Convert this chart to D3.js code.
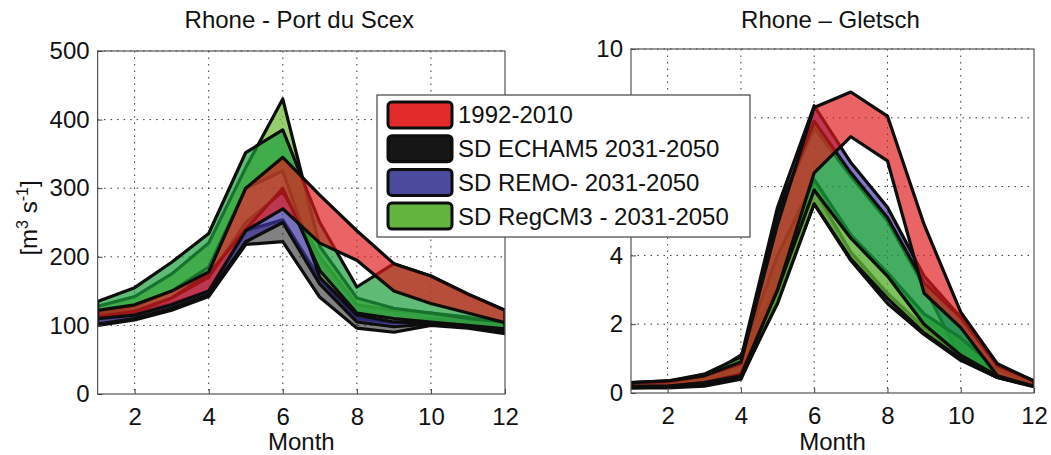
<!DOCTYPE html>
<html>
<head>
<meta charset="utf-8">
<script src="https://cdn.jsdelivr.net/npm/d3@7"></script>
<style>
  body { margin: 0; background: #fff; }
  text { font-family: "Liberation Sans", Arial, Helvetica, sans-serif; fill: #111; }
</style>
</head>
<body>
<svg id="chart" width="1051" height="455"></svg>
<script>
const months = [1, 2, 3, 4, 5, 6, 7, 8, 9, 10, 11, 12]
const monthTicks = [2, 4, 6, 8, 10, 12]
const scexTicks = [0, 100, 200, 300, 400, 500]
const gletschTicks = [0, 2, 4, 6, 8, 10]

const legendLabels = ['1992-2010', 'SD ECHAM5 2031-2050', 'SD REMO- 2031-2050', 'SD RegCM3 - 2031-2050']
const legendColors = ['#e42b2b', '#161616', '#4b4a9c', '#63b43f']

// Rhone - Port du Scex, m3/s (lower / upper edge of each band)
const scexEchamLow = [100, 108, 122, 142, 218, 222, 141, 96, 90, 100, 96, 88]
const scexEchamHigh = [112, 118, 132, 150, 238, 254, 168, 110, 104, 110, 106, 98]
const scexRemoLow = [102, 110, 125, 145, 222, 250, 160, 105, 98, 102, 98, 90]
const scexRemoHigh = [115, 122, 140, 170, 250, 295, 200, 130, 122, 118, 112, 102]
const scexRegLightLow = [118, 128, 150, 185, 300, 325, 170, 115, 105, 103, 98, 92]
const scexRegLightHigh = [128, 142, 175, 220, 330, 430, 215, 140, 125, 118, 110, 105]
const scexRegLow = [113, 120, 140, 175, 240, 300, 180, 118, 110, 105, 100, 95]
const scexRegHigh = [135, 155, 192, 234, 352, 385, 250, 156, 190, 172, 145, 122]
const scexObsLow = [110, 115, 130, 150, 238, 270, 220, 195, 150, 132, 118, 104]
const scexObsHigh = [122, 130, 150, 178, 300, 345, 290, 238, 190, 172, 146, 122]

// Rhone - Gletsch, m3/s
const gletEchamLow = [0.15, 0.15, 0.2, 0.4, 2.7, 5.5, 3.85, 2.6, 1.7, 0.95, 0.45, 0.18]
const gletEchamHigh = [0.28, 0.3, 0.45, 1.1, 3.1, 5.9, 4.1, 2.9, 1.9, 1.1, 0.55, 0.25]
const gletRemoLow = [0.2, 0.2, 0.3, 0.8, 5.25, 7.7, 6.3, 5.0, 3.1, 1.0, 0.45, 0.2]
const gletRemoHigh = [0.3, 0.3, 0.45, 1.0, 5.4, 8.35, 6.7, 5.4, 3.4, 2.2, 0.8, 0.35]
const gletRegLightLow = [0.15, 0.18, 0.25, 0.45, 2.6, 5.5, 3.9, 2.75, 1.75, 1.0, 0.45, 0.2]
const gletRegLightHigh = [0.3, 0.35, 0.55, 1.05, 4.0, 6.2, 4.6, 3.5, 2.3, 1.6, 0.7, 0.3]
const gletRegLow = [0.18, 0.2, 0.3, 0.55, 3.0, 5.9, 4.5, 3.4, 2.0, 1.1, 0.5, 0.2]
const gletRegHigh = [0.3, 0.32, 0.5, 0.85, 5.2, 7.9, 6.4, 5.1, 3.2, 2.2, 0.8, 0.35]
const gletObsLow = [0.2, 0.2, 0.3, 0.5, 3.0, 6.4, 7.45, 6.75, 2.9, 1.9, 0.5, 0.2]
const gletObsHigh = [0.3, 0.35, 0.5, 0.9, 4.9, 8.3, 8.75, 8.05, 4.9, 2.35, 0.85, 0.35]

const band = (low, high, fill, opacity) => ({
  fill,
  opacity,
  values: months.map((m, i) => ({ m, lo: low[i], hi: high[i] }))
})

const panels = [
  {
    title: 'Rhone - Port du Scex',
    x0: 97.6, x1: 505, yTop: 51, yBottom: 394,
    yMax: 500, yTicks: scexTicks,
    bands: [
      band(scexEchamLow, scexEchamHigh, '#1a1a1a', 0.55),
      band(scexRemoLow, scexRemoHigh, '#3d35a0', 0.7),
      band(scexRegLightLow, scexRegLightHigh, '#72bd3a', 0.75),
      band(scexRegLow, scexRegHigh, '#1c9e3c', 0.7),
      band(scexObsLow, scexObsHigh, '#e01a1e', 0.68)
    ]
  },
  {
    title: 'Rhone \u2013 Gletsch',
    x0: 631, x1: 1034, yTop: 49, yBottom: 393,
    yMax: 10, yTicks: gletschTicks,
    bands: [
      band(gletEchamLow, gletEchamHigh, '#1a1a1a', 0.55),
      band(gletRemoLow, gletRemoHigh, '#4a3fb0', 0.7),
      band(gletRegLightLow, gletRegLightHigh, '#5cb035', 0.8),
      band(gletRegLow, gletRegHigh, '#16983a', 0.8),
      band(gletObsLow, gletObsHigh, '#e01a1e', 0.68)
    ]
  }
]

// legend frame, needed to hide tick labels it covers
const legendBox = { x: 377, y: 95, w: 373, h: 142 }

const svg = d3.select('#chart')

panels.forEach((p, idx) => {
  const x = d3.scaleLinear().domain([1, 12]).range([p.x0, p.x1])
  const y = d3.scaleLinear().domain([0, p.yMax]).range([p.yBottom, p.yTop])
  const g = svg.append('g')

  // dotted grid
  g.selectAll('.vgrid')
    .data(monthTicks.filter(t => t < 12))
    .enter()
    .append('line')
    .attr('x1', d => x(d)).attr('x2', d => x(d))
    .attr('y1', p.yTop).attr('y2', p.yBottom)
    .attr('stroke', '#333').attr('stroke-width', 1)
    .attr('stroke-dasharray', '1.5,5')
  g.selectAll('.hgrid')
    .data(p.yTicks.filter(t => t > 0))
    .enter()
    .append('line')
    .attr('x1', p.x0).attr('x2', p.x1)
    .attr('y1', d => y(d)).attr('y2', d => y(d))
    .attr('stroke', '#333').attr('stroke-width', 1)
    .attr('stroke-dasharray', '1.5,5')

  const area = d3.area()
    .x(d => x(d.m))
    .y0(d => y(d.lo))
    .y1(d => y(d.hi))

  const clipId = 'clip' + idx
  svg.append('clipPath').attr('id', clipId)
    .append('rect')
    .attr('x', p.x0).attr('y', p.yTop - 2)
    .attr('width', p.x1 - p.x0).attr('height', p.yBottom - p.yTop + 2)

  g.append('g')
    .attr('clip-path', `url(#${clipId})`)
    .selectAll('path')
    .data(p.bands)
    .enter()
    .append('path')
    .attr('d', d => area(d.values))
    .attr('fill', d => d.fill)
    .attr('fill-opacity', d => d.opacity)
    .attr('stroke', '#0d0d0d')
    .attr('stroke-width', 3.2)
    .attr('stroke-linejoin', 'round')

  // axes box with inward ticks
  g.append('rect')
    .attr('x', p.x0).attr('y', p.yTop)
    .attr('width', p.x1 - p.x0).attr('height', p.yBottom - p.yTop)
    .attr('fill', 'none').attr('stroke', '#555').attr('stroke-width', 1.2)

  // labels under the legend are not drawn, as in the original
  const hidden = v => {
    const yy = y(v)
    return p.x0 > legendBox.x && p.x0 - 10 < legendBox.x + legendBox.w &&
      yy > legendBox.y && yy < legendBox.y + legendBox.h
  }
  const bottom = d3.axisBottom(x).tickValues(monthTicks).tickSizeInner(-5).tickSizeOuter(0).tickPadding(14)
  const left = d3.axisLeft(y).tickValues(p.yTicks).tickSizeInner(-5).tickSizeOuter(0).tickPadding(8)
    .tickFormat(v => hidden(v) ? '' : v)

  const bx = g.append('g').attr('transform', `translate(0,${p.yBottom})`).call(bottom)
  const ly = g.append('g').attr('transform', `translate(${p.x0},0)`).call(left)
  ;[bx, ly].forEach(a => {
    a.select('.domain').remove()
    a.selectAll('.tick line').attr('stroke', '#444')
    a.selectAll('.tick text')
      .attr('font-size', 24)
      .attr('font-family', '"Liberation Sans", Arial, sans-serif')
      .attr('fill', '#111')
  })

  g.append('text')
    .attr('x', (p.x0 + p.x1) / 2 - 2).attr('y', 28)
    .attr('text-anchor', 'middle').attr('font-size', 24)
    .text(p.title)

  g.append('text')
    .attr('x', (p.x0 + p.x1) / 2).attr('y', 450)
    .attr('text-anchor', 'middle').attr('font-size', 24)
    .text('Month')
})

// y label
const yl = svg.append('text')
  .attr('transform', 'translate(37,218) rotate(-90)')
  .attr('text-anchor', 'middle')
  .attr('font-size', 24)
yl.append('tspan').text('[m')
yl.append('tspan').attr('dy', -9).attr('font-size', 16).text('3')
yl.append('tspan').attr('dy', 9).text(' s')
yl.append('tspan').attr('dy', -9).attr('font-size', 16).text('-1')
yl.append('tspan').attr('dy', 9).text(']')

// legend
const legend = svg.append('g')
legend.append('rect')
  .attr('x', legendBox.x).attr('y', legendBox.y)
  .attr('width', legendBox.w).attr('height', legendBox.h)
  .attr('fill', '#fff').attr('stroke', '#444').attr('stroke-width', 1.2)

const rows = legend.selectAll('.row')
  .data(legendLabels)
  .enter()
  .append('g')
  .attr('transform', (d, i) => `translate(388,${102 + i * 33.7})`)

rows.append('rect')
  .attr('width', 64).attr('height', 26).attr('rx', 4)
  .attr('fill', (d, i) => legendColors[i])
  .attr('stroke', '#0d0d0d').attr('stroke-width', 3)

rows.append('text')
  .attr('x', 70).attr('y', 13).attr('dy', '0.35em')
  .attr('font-size', 24)
  .text(d => d)
</script>
</body>
</html>
